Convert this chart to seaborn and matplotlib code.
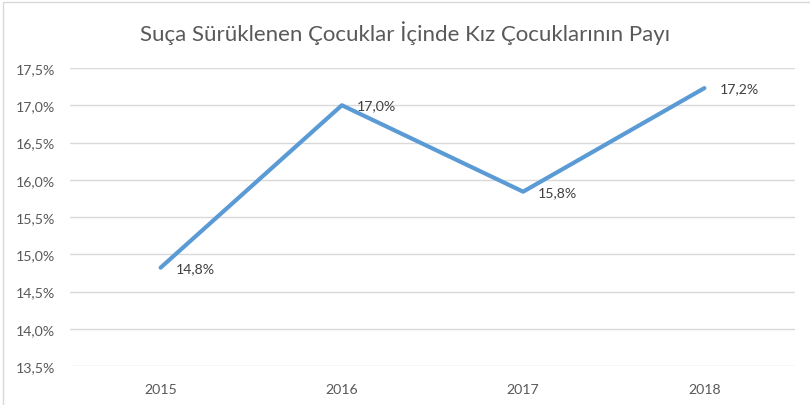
import pandas as pd
import matplotlib.pyplot as plt
import seaborn as sns
from matplotlib.patches import Rectangle

years = ['2015', '2016', '2017', '2018']
share = [14.82, 17.0, 15.84, 17.23]
labels = ['14,8%', '17,0%', '15,8%', '17,2%']
y_ticks = [13.5, 14.0, 14.5, 15.0, 15.5, 16.0, 16.5, 17.0, 17.5]

df = pd.DataFrame({'year': years, 'share': share})
df['pos'] = range(len(years))

sns.set_style('white')
plt.rcParams['font.family'] = ['Lato', 'DejaVu Sans']

fig = plt.figure(figsize=(8.1, 4.06), dpi=100)
ax = fig.add_axes([70 / 810, 39 / 406, 725 / 810, 298 / 406])

sns.lineplot(x='pos', y='share', data=df, ax=ax, color='#5B9BD5', linewidth=3,
             solid_capstyle='round', solid_joinstyle='round')

for x, y, lab in zip(df['pos'], df['share'], labels):
    ax.annotate(lab, (x, y), xytext=(15, 0), textcoords='offset pixels',
                ha='left', va='center', fontsize=10.2, color='#404040')

ax.set_xlim(-0.5, 3.5)
ax.set_ylim(13.5, 17.5)
ax.set_xticks(df['pos'])
ax.set_xticklabels(years)
ax.set_yticks(y_ticks)
ax.set_yticklabels([f'{v:.1f}%'.replace('.', ',') for v in y_ticks])
ax.tick_params(axis='both', length=0, labelsize=10.2, labelcolor='#595959')
ax.tick_params(axis='x', pad=12)
ax.tick_params(axis='y', pad=11)
ax.grid(axis='y', color='#D9D9D9', linewidth=1)
for s in ax.spines.values():
    s.set_visible(False)
ax.set_xlabel('')
ax.set_ylabel('')

fig.text(0.5, 1 - 33 / 406, 'Suça Sürüklenen Çocuklar İçinde Kız Çocuklarının Payı',
         ha='center', va='center', fontsize=16, color='#595959')
fig.patches.append(Rectangle((3 / 810, -0.1), 1.2, 1 - 3 / 406 + 0.1, transform=fig.transFigure,
                             fill=False, edgecolor='#D9D9D9', linewidth=1))

fig.savefig('out.png', dpi=100)
